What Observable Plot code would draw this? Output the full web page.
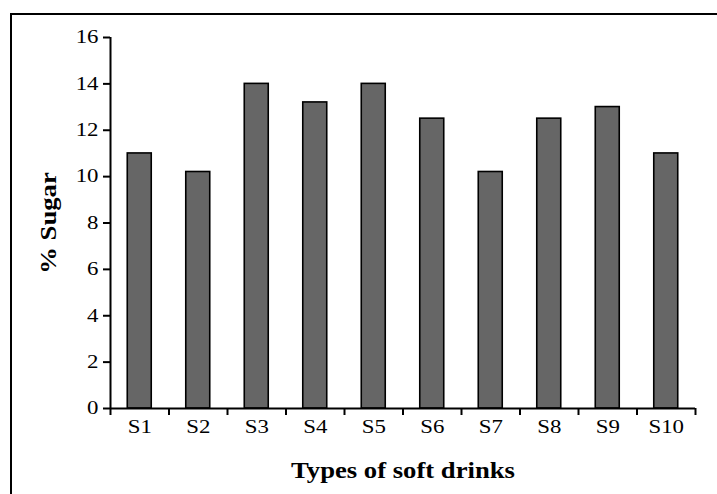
<!DOCTYPE html>
<html>
<head>
<meta charset="utf-8">
<script src="https://cdn.jsdelivr.net/npm/d3@7"></script>
<script src="https://cdn.jsdelivr.net/npm/@observablehq/plot@0.6"></script>
<style>
  body { margin: 0; background: #fff; }
  #wrap { position: relative; width: 717px; height: 494px; overflow: hidden; background: #fff; }
  .bt { position: absolute; left: 10px; top: 13px; right: 0; height: 2px; background: #000; }
  .bl { position: absolute; left: 10px; top: 13px; bottom: 0; width: 2px; background: #000; }
  #chart { position: absolute; left: 0; top: 0; }
  #chart svg { font-family: "Liberation Serif", "Times New Roman", serif; }
  #chart g[aria-label="y-axis label"] text,
  #chart g[aria-label="x-axis label"] text { font-weight: bold; }
</style>
</head>
<body>
<div id="wrap">
  <div class="bt"></div>
  <div class="bl"></div>
  <div id="chart"></div>
</div>
<script>
const categories = ["S1", "S2", "S3", "S4", "S5", "S6", "S7", "S8", "S9", "S10"];
const sugar = [11.0, 10.2, 14.0, 13.2, 14.0, 12.5, 10.2, 12.5, 13.0, 11.0];
const yTicks = [0, 2, 4, 6, 8, 10, 12, 14, 16];
const xTitle = "Types of soft drinks";
const yTitle = "% Sugar";

const data = categories.map((c, i) => ({ drink: c, value: sugar[i] }));

const W = 717, H = 494, ML = 110, MR = 22, MT = 37, MB = 86;
const step = (W - ML - MR) / categories.length;

const chart = Plot.plot({
  width: W,
  height: H,
  marginLeft: ML,
  marginRight: MR,
  marginTop: MT,
  marginBottom: MB,
  style: { background: "transparent", overflow: "visible" },
  x: { domain: categories, paddingInner: 0.59, paddingOuter: 0.295, round: false },
  y: { domain: [0, 16] },
  marks: [
    Plot.barY(data, { x: "drink", y: "value", fill: "#666666", stroke: "#000", strokeWidth: 1.6 }),
    Plot.ruleY([0], { stroke: "#000", strokeWidth: 2 }),
    Plot.ruleX([categories[0]], { dx: -step / 2, stroke: "#000", strokeWidth: 2 }),
    Plot.ruleX(categories, { x: d => d, dx: -step / 2, y1: 0, y2: 0, insetBottom: -7, stroke: "#000", strokeWidth: 2 }),
    Plot.ruleX([categories[categories.length - 1]], { x: d => d, dx: step / 2, y1: 0, y2: 0, insetBottom: -7, stroke: "#000", strokeWidth: 2 }),
    Plot.axisY({
      ticks: yTicks, tickSize: 7, tickPadding: 5, strokeWidth: 2, fontSize: 18, fill: "#000",
      label: yTitle, labelAnchor: "center", labelArrow: "none", labelOffset: 71
    }),
    Plot.axisX({
      tickSize: 0, tickPadding: 12, fontSize: 18, fill: "#000",
      label: xTitle, labelAnchor: "center", labelArrow: "none", labelOffset: 69
    })
  ]
});

document.getElementById("chart").appendChild(chart);

// Horizontal stretch of the text to match the reference's wide glyphs
function stretch(selector, s, size) {
  chart.querySelectorAll(selector).forEach(t => {
    let extra = "";
    const xa = t.getAttribute("x");
    if (xa != null && /^-?[\d.]+$/.test(xa)) { extra += ` translate(${+xa},0)`; t.removeAttribute("x"); }
    const ya = t.getAttribute("y");
    if (ya != null && /^-?[\d.]+$/.test(ya)) { extra += ` translate(0,${+ya})`; t.removeAttribute("y"); }
    const tr = t.getAttribute("transform") || "";
    t.setAttribute("transform", `${tr}${extra} scale(${s},1)`);
    if (size) t.setAttribute("font-size", size);
  });
}
stretch('g[aria-label="x-axis tick label"] text', 1.27);
stretch('g[aria-label="y-axis tick label"] text', 1.27);
stretch('g[aria-label="x-axis label"] text', 1.16, 23);
stretch('g[aria-label="y-axis label"] text', 1.16, 23);
</script>
</body>
</html>
